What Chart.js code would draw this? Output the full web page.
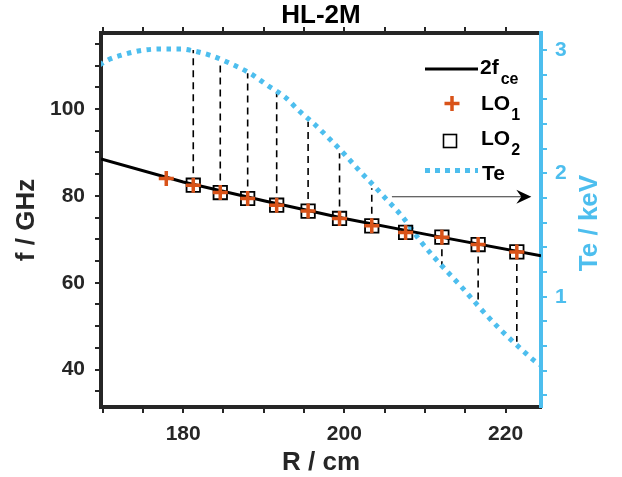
<!DOCTYPE html>
<html>
<head>
<meta charset="utf-8">
<script src="https://cdn.jsdelivr.net/npm/chart.js@4/dist/chart.umd.min.js"></script>
<style>
html,body{margin:0;padding:0;background:#fff;}
canvas{display:block;}
</style>
</head>
<body>
<canvas id="c" width="622" height="477"></canvas>
<script>
// ---- data ----
const R_fce = [169.8, 180, 190, 200, 210, 224.4];
const f_fce = [88.5, 83.2, 78.9, 74.8, 71.2, 66.2];

const R_LO1 = [177.9, 181.25, 184.6, 188.0, 191.6, 195.5, 199.4, 203.4, 207.6, 212.1, 216.6, 221.4];
const f_LO1 = [84.0, 82.46, 80.77, 79.4, 77.85, 76.5, 74.8, 73.1, 71.6, 70.5, 68.8, 67.1];

const R_LO2 = [181.25, 184.6, 188.0, 191.6, 195.5, 199.4, 203.4, 207.6, 212.1, 216.6, 221.4];
const f_LO2 = [82.46, 80.77, 79.4, 77.85, 76.5, 74.8, 73.1, 71.6, 70.5, 68.8, 67.1];
// Te (keV) where each dashed drop line meets the Te profile (null = no line)
const Te_drop = [3.0, 2.905, 2.811, 2.662, 2.419, 2.163, 1.879, null, 1.243, 0.946, 0.635];

const R_Te = [169.6, 170.9, 172.1, 174.6, 177.1, 179.8, 181.2, 183.5, 185.8, 188.3, 190.4, 192.6, 194.5, 196.4, 198.3, 200.1, 201.8, 203.7, 205.3, 207.2, 209.5, 212.0, 214.7, 216.5, 219.2, 221.7, 224.0, 224.4];
const Te    = [2.878, 2.927, 2.954, 2.994, 3.008, 3.008, 2.994, 2.954, 2.892, 2.811, 2.716, 2.62, 2.5, 2.392, 2.27, 2.149, 2.027, 1.897, 1.784, 1.649, 1.446, 1.257, 1.068, 0.933, 0.744, 0.59, 0.46, 0.445];

const arrowR = [205.9, 223.2];
const arrowF = 79.8;

const xTickLabels = [180, 200, 220];
const yTickLabels = [40, 60, 80, 100];
const y2TickLabels = [1, 2, 3];

const FONT = '"Liberation Sans", Arial, Helvetica, sans-serif';
const BLUE = '#4DBEEE';
const ORANGE = '#D95319';
const AX = '#262626';

const pts = (xs, ys) => xs.map((x, i) => ({x: x, y: ys[i]}));
const near = (v, list) => list.some(t => Math.abs(v - t) < 1e-6);

const overlay = {
  id: 'overlay',
  beforeDatasetsDraw(chart) {
    const ctx = chart.ctx, xs = chart.scales.x, ys = chart.scales.y, y2 = chart.scales.y2;
    ctx.save();
    ctx.strokeStyle = '#000';
    ctx.lineWidth = 1.6;
    ctx.setLineDash([7, 5]);
    R_LO2.forEach((r, i) => {
      if (Te_drop[i] === null) return;
      const x = xs.getPixelForValue(r);
      ctx.beginPath();
      ctx.moveTo(x, ys.getPixelForValue(f_LO2[i]));
      ctx.lineTo(x, y2.getPixelForValue(Te_drop[i]));
      ctx.stroke();
    });
    ctx.restore();
  },
  afterDatasetsDraw(chart) {
    const ctx = chart.ctx, xs = chart.scales.x, ys = chart.scales.y;
    ctx.save();
    // arrow pointing to the Te axis
    const ax1 = xs.getPixelForValue(arrowR[0]), ax2 = xs.getPixelForValue(arrowR[1]);
    const ay = ys.getPixelForValue(arrowF);
    ctx.strokeStyle = '#333';
    ctx.lineWidth = 1.2;
    ctx.beginPath(); ctx.moveTo(ax1, ay); ctx.lineTo(ax2 - 8, ay); ctx.stroke();
    ctx.fillStyle = '#000';
    ctx.beginPath();
    ctx.moveTo(ax2, ay); ctx.lineTo(ax2 - 15, ay - 7); ctx.lineTo(ax2 - 10, ay); ctx.lineTo(ax2 - 15, ay + 7);
    ctx.closePath(); ctx.fill();

    // legend
    const tx = 480;
    ctx.fillStyle = '#000';
    ctx.textAlign = 'left';
    ctx.textBaseline = 'alphabetic';
    const big = 'bold 21px ' + FONT, small = 'bold 16px ' + FONT;
    // row 1: 2f_ce
    ctx.strokeStyle = '#000'; ctx.lineWidth = 3;
    ctx.beginPath(); ctx.moveTo(425, 69); ctx.lineTo(478, 69); ctx.stroke();
    ctx.font = big; ctx.fillText('2f', tx, 73.5);
    let w = ctx.measureText('2f').width;
    ctx.font = small; ctx.fillText('ce', tx + w + 2, 84);
    // row 2: LO_1
    ctx.strokeStyle = ORANGE; ctx.lineWidth = 3.5;
    ctx.beginPath(); ctx.moveTo(444.5, 103.5); ctx.lineTo(459.5, 103.5); ctx.moveTo(452, 96); ctx.lineTo(452, 111); ctx.stroke();
    ctx.font = big; ctx.fillText('LO', tx + 1, 110);
    w = ctx.measureText('LO').width;
    ctx.font = small; ctx.fillText('1', tx + 1 + w + 1, 120);
    // row 3: LO_2
    ctx.strokeStyle = '#000'; ctx.lineWidth = 1.6;
    ctx.strokeRect(443.5, 134.5, 13, 13);
    ctx.font = big; ctx.fillText('LO', tx + 1, 145);
    ctx.font = small; ctx.fillText('2', tx + 1 + w + 1, 155);
    // row 4: Te
    ctx.strokeStyle = BLUE; ctx.lineWidth = 5; ctx.setLineDash([5, 5]);
    ctx.beginPath(); ctx.moveTo(425, 170.5); ctx.lineTo(478, 170.5); ctx.stroke();
    ctx.setLineDash([]);
    ctx.font = big; ctx.fillText('Te', tx + 2, 179.5);

    // right axis title (reads bottom to top)
    ctx.translate(590, 223);
    ctx.rotate(-Math.PI / 2);
    ctx.font = 'bold 26px ' + FONT;
    ctx.fillStyle = BLUE;
    ctx.textAlign = 'center';
    ctx.textBaseline = 'middle';
    ctx.fillText('Te / keV', 0, 0);
    ctx.restore();
  }
};

const gridOpts = (color) => ({display: true, drawOnChartArea: false, drawTicks: true, tickLength: 6, color: color, lineWidth: 2});
const borderOpts = (color) => ({display: true, width: 4, color: color});

new Chart(document.getElementById('c'), {
  type: 'scatter',
  data: {
    datasets: [
      {label: 'LO1', data: pts(R_LO1, f_LO1), yAxisID: 'y', xAxisID: 'x', showLine: false,
       pointStyle: 'cross', pointRadius: 7.5, pointBorderWidth: 3.5, pointBorderColor: ORANGE, borderColor: ORANGE, backgroundColor: ORANGE},
      {label: 'LO2', data: pts(R_LO2, f_LO2), yAxisID: 'y', xAxisID: 'x', showLine: false,
       pointStyle: 'rect', pointRadius: 9.5, pointBorderWidth: 1.8, pointBorderColor: '#000', pointBackgroundColor: 'rgba(0,0,0,0)', borderColor: '#000', backgroundColor: 'rgba(0,0,0,0)'},
      {label: '2fce', data: pts(R_fce, f_fce), yAxisID: 'y', xAxisID: 'x', showLine: true,
       borderColor: '#000', borderWidth: 3, pointRadius: 0, fill: false, tension: 0},
      {label: 'Te', data: pts(R_Te, Te), yAxisID: 'y2', xAxisID: 'x', showLine: true,
       borderColor: BLUE, borderWidth: 5, borderDash: [4.5, 5.5], borderCapStyle: 'butt', pointRadius: 0, fill: false, cubicInterpolationMode: 'monotone'}
    ]
  },
  options: {
    responsive: false,
    animation: false,
    devicePixelRatio: 1,
    events: [],
    layout: {padding: 0},
    plugins: {legend: {display: false}, tooltip: {enabled: false}, title: {display: false}},
    scales: {
      x: {
        type: 'linear', position: 'bottom', min: 169.8, max: 224.4,
        ticks: {stepSize: 5, autoSkip: false, includeBounds: false, maxRotation: 0, padding: 8.6,
                callback: v => near(v, xTickLabels) ? String(Math.round(v)) : '',
                font: {family: FONT, size: 21, weight: 'bold'}, color: AX},
        grid: gridOpts(AX), border: borderOpts(AX),
        title: {display: true, text: 'R / cm', color: AX, font: {family: FONT, size: 26, weight: 'bold', lineHeight: 1}, padding: {top: 0, bottom: 1}},
        afterFit: s => { s.height = 70; }
      },
      x2: {
        type: 'linear', position: 'top', min: 169.8, max: 224.4,
        ticks: {stepSize: 5, autoSkip: false, includeBounds: false, maxRotation: 0, callback: () => '', font: {size: 4}},
        grid: gridOpts(AX), border: borderOpts(AX),
        title: {display: true, text: 'HL-2M', color: '#000', font: {family: FONT, size: 26, weight: 'bold'}, padding: {top: 0.7, bottom: 0}},
        afterFit: s => { s.height = 33; }
      },
      y: {
        type: 'linear', position: 'left', min: 31.4, max: 117.5,
        ticks: {stepSize: 5, autoSkip: false, includeBounds: false, padding: 10,
                callback: v => near(v, yTickLabels) ? String(Math.round(v)) : '',
                font: {family: FONT, size: 21, weight: 'bold'}, color: AX},
        grid: gridOpts(AX), border: borderOpts(AX),
        title: {display: true, text: 'f / GHz', color: AX, font: {family: FONT, size: 26, weight: 'bold', lineHeight: 1}, padding: {top: 14, bottom: 0}},
        afterFit: s => { s.width = 101; }
      },
      y2: {
        type: 'linear', position: 'right', min: 0.106, max: 3.138,
        ticks: {stepSize: 0.2, autoSkip: false, includeBounds: false, padding: 8,
                callback: v => near(v, y2TickLabels) ? String(Math.round(v)) : '',
                font: {family: FONT, size: 21, weight: 'bold'}, color: BLUE},
        grid: gridOpts(BLUE), border: borderOpts(BLUE),
        title: {display: false},
        afterFit: s => { s.width = 81; }
      }
    }
  },
  plugins: [overlay]
});
</script>
</body>
</html>
